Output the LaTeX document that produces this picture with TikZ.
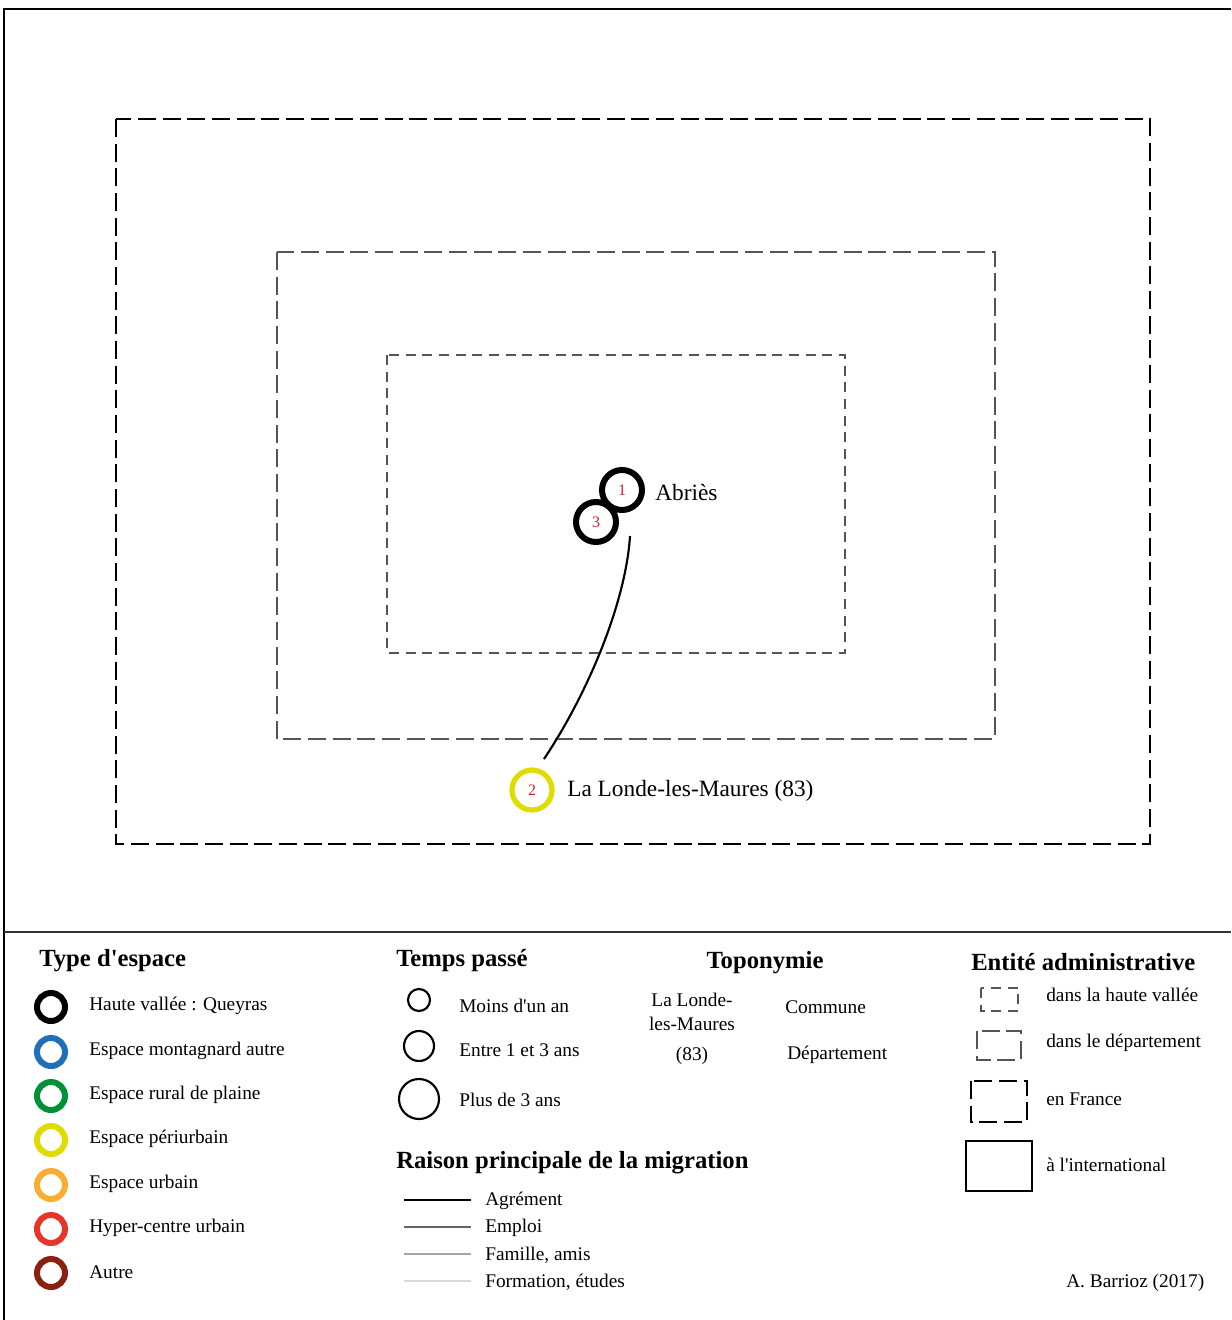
\documentclass[tikz,border=0pt]{standalone}
\usepackage{fontspec}
\setmainfont{Liberation Serif}[Ligatures=TeXOff]
\definecolor{cblue}{HTML}{1F70B8}
\definecolor{cgreen}{HTML}{009036}
\definecolor{cyellow}{HTML}{E0DC00}
\definecolor{corange}{HTML}{F9AE30}
\definecolor{cred}{HTML}{E8352B}
\definecolor{cbrown}{HTML}{8B2011}
\definecolor{numred}{HTML}{D41E2C}
\definecolor{dgray}{HTML}{555555}
\begin{document}
\begin{tikzpicture}[x=0.75pt,y=-0.75pt,
  place/.style={circle,draw,line width=4.5pt,minimum size=30pt,inner sep=0pt,font=\fontsize{12}{14}\selectfont,text=numred},
  placelabel/.style={anchor=west,inner sep=0pt,font=\fontsize{17.5}{20}\selectfont},
  ring/.style={circle,draw=#1,line width=4.5pt,minimum size=21pt,inner sep=0pt},
  legtxt/.style={anchor=west,inner sep=0pt,font=\fontsize{14.5}{17}\selectfont},
  legtitle/.style={anchor=west,inner sep=0pt,font=\fontsize{18.5}{21}\selectfont\bfseries},
  timecirc/.style={circle,draw,line width=1.6pt,inner sep=0pt},
  valley/.style={draw=dgray,line width=0.8pt,dash pattern=on 7.5pt off 5pt},
  dept/.style={draw=dgray,line width=1pt,dash pattern=on 13.5pt off 5pt},
  france/.style={draw=black,line width=1.9pt,dash pattern=on 13.5pt off 5pt},
  intl/.style={draw=black,line width=1.6pt},
  reason/.style={line width=1.6pt},
]
\useasboundingbox (0,0) rectangle (1231,1320);
% frame
\draw[line width=1.6pt] (4,1320) -- (4,9) -- (1231,9);
\draw[line width=1.1pt,draw=black!80] (4,932) -- (1231,932);
% administrative zones
\draw[france] (116,119) rectangle (1150,844);
\draw[dept] (277,252) rectangle (995,739);
\draw[valley] (387,355) rectangle (845,653);
% places
\node[place] (p1) at (622,490) {1};
\node[place] (p3) at (596,522) {3};
\node[placelabel] (abries) at (655,492) {Abriès};
\node[place,draw=cyellow,line width=3.9pt] (p2) at (532,790) {2};
\node[placelabel] (londe) at (567,791) {La Londe-les-Maures (83)};
\coordinate (ca) at (630,536);
\coordinate (cb) at (544,759);
\draw[line width=1.6pt] (ca) .. controls (626,600) and (590,690) .. (cb);
% legend: type d'espace
\node[legtitle] (t1) at (39,961) {Type d'espace};
\foreach \c/\y/\t [count=\i] in {black/1007/{Haute vallée : Queyras},cblue/1052/{Espace montagnard autre},cgreen/1096/{Espace rural de plaine},cyellow/1140/{Espace périurbain},corange/1185/{Espace urbain},cred/1229/{Hyper-centre urbain},cbrown/1273/{Autre}}{
  \node[ring=\c] (r\i) at (51,\y) {};
  \node[legtxt] (rt\i) at (89,\y-1) {\t};
}
% temps passe
\node[legtitle] (t2) at (396,961) {Temps passé};
\node[timecirc,minimum size=16.5pt] (tc1) at (419,1000) {};
\node[timecirc,minimum size=22.5pt] (tc2) at (419,1046) {};
\node[timecirc,minimum size=30pt] (tc3) at (419,1099) {};
\node[legtxt] (tt1) at (459,1006) {Moins d'un an};
\node[legtxt] (tt2) at (459,1050) {Entre 1 et 3 ans};
\node[legtxt] (tt3) at (459,1100) {Plus de 3 ans};
% toponymie
\node[legtitle,anchor=center] (t3) at (765,963) {Toponymie};
\node[legtxt,anchor=center] (tp1) at (692,1000) {La Londe-};
\node[legtxt,anchor=center] (tp2) at (692,1024) {les-Maures};
\node[legtxt,anchor=center] (tp3) at (692,1056) {(83)};
\node[legtxt] (tp4) at (785,1007) {Commune};
\node[legtxt] (tp5) at (787,1055) {Département};
% entite administrative
\node[legtitle] (t4) at (971,962) {Entité administrative};
\draw[valley] (981,988) rectangle (1018,1011);
\draw[dept] (977,1031) rectangle (1021,1060);
\draw[france] (971,1081) rectangle (1027,1122);
\draw[intl] (966,1141) rectangle (1032,1191);
\node[legtxt] (e1) at (1046,995) {dans la haute vallée};
\node[legtxt] (e2) at (1046,1043) {dans le département};
\node[legtxt] (e3) at (1046,1099) {en France};
\node[legtxt] (e4) at (1046,1165) {à l'international};
% raison
\node[legtitle] (t5) at (396,1163) {Raison principale de la migration};
\foreach \c/\y/\t [count=\i] in {black/1200/{Agrément},black!60/1227/{Emploi},black!35/1254/{Famille, amis},black!15/1281/{Formation, études}}{
  \coordinate (ra\i) at (404,\y);
  \coordinate (rb\i) at (471,\y);
  \draw[reason,draw=\c] (ra\i) -- (rb\i);
  \node[legtxt] (rl\i) at (485,\y+1) {\t};
}
\node[legtxt] (auth) at (1066,1283) {A. Barrioz (2017)};
\end{tikzpicture}
\end{document}
